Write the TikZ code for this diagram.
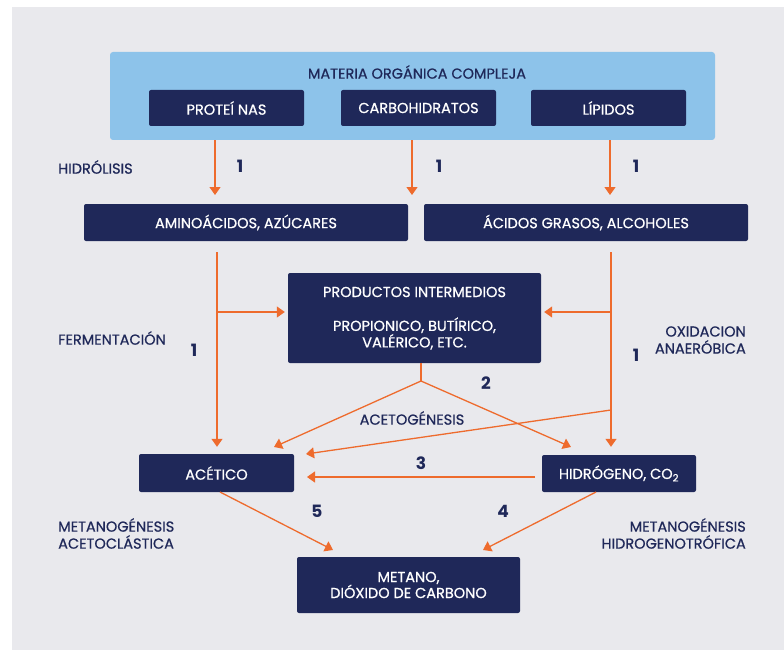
\documentclass[tikz,border=0pt]{standalone}
\usepackage{fontspec}
\setmainfont{Poppins}
\newfontfamily\medfont{Poppins}[FakeBold=0.7]
\usetikzlibrary{arrows.meta}
\definecolor{navy}{HTML}{1F2859}
\definecolor{lblue}{HTML}{8DC3EA}
\definecolor{org}{HTML}{EE6B2D}
\definecolor{bg}{HTML}{E9E9ED}
\begin{document}
\begin{tikzpicture}[x=1pt,y=-1pt,
  darkbox/.style={fill=navy,rounded corners=2pt,text=white,font=\medfont\fontsize{14.5}{16}\selectfont,align=center,inner sep=0pt},
  bluebox/.style={fill=lblue,rounded corners=3pt,inner sep=0pt},
  txt/.style={text=navy,font=\medfont\fontsize{14.5}{17}\selectfont,inner sep=0pt},
  wtxt/.style={text=white,font=\medfont\fontsize{14.5}{15}\selectfont,inner sep=0pt,align=center},
  num/.style={text=navy,font=\bfseries\fontsize{17}{17}\selectfont,inner sep=0pt},
  ln/.style={draw=org,line width=1.3pt},
  arr/.style={draw=org,line width=1.3pt,-{Triangle[width=11pt,length=8pt]}}]
\useasboundingbox (0,0) rectangle (784,650);
\fill[white] (0,0) rectangle (784,650);
\fill[bg] (12,7) rectangle (784,650);

% boxes
\node[bluebox,minimum width=605pt,minimum height=88pt] (mat) at (412.5,96) {};
\node[txt] (mattxt) at (417,72) {MATERIA ORGÁNICA COMPLEJA};
\node[darkbox,minimum width=155pt,minimum height=36pt] (prot) at (226.5,108) {PROTEÍ NAS};
\node[darkbox,minimum width=155pt,minimum height=36pt] (carb) at (418.5,108) {CARBOHIDRATOS};
\node[darkbox,minimum width=155pt,minimum height=36pt] (lip) at (608.5,108) {LÍPIDOS};
\node[darkbox,minimum width=324pt,minimum height=37pt] (amino) at (246,222.5) {AMINOÁCIDOS, AZÚCARES};
\node[darkbox,minimum width=324pt,minimum height=37pt] (acidos) at (586,222.5) {ÁCIDOS GRASOS, ALCOHOLES};
\node[darkbox,minimum width=253pt,minimum height=90pt] (prod) at (414.5,318) {};
\node[wtxt] (prodt1) at (414.5,292) {PRODUCTOS INTERMEDIOS};
\node[wtxt] (prodt2) at (414.5,333.5) {PROPIONICO, BUTÍRICO,\\VALÉRICO, ETC.};
\node[darkbox,minimum width=155pt,minimum height=38pt] (acet) at (216.5,473) {ACÉTICO};
\node[darkbox,minimum width=154pt,minimum height=37pt] (hidro) at (619,473.5) {HIDRÓGENO, CO\textsubscript{2}};
\node[darkbox,minimum width=223pt,minimum height=56pt] (metano) at (408.5,585) {METANO,\\DIÓXIDO DE CARBONO};

% labels
\node[txt,anchor=west] (hidrol) at (58,167) {HIDRÓLISIS};
\node[txt,anchor=west] (ferm) at (58,338) {FERMENTACIÓN};
\node[txt,anchor=east,align=right] (oxid) at (746,340) {OXIDACION\\ANAERÓBICA};
\node[txt] (acetog) at (412,418) {ACETOGÉNESIS};
\node[txt,anchor=west,align=left] (metac) at (58,533.5) {METANOGÉNESIS\\ACETOCLÁSTICA};
\node[txt,anchor=east,align=right] (methid) at (746,533.5) {METANOGÉNESIS\\HIDROGENOTRÓFICA};

\node[num] (n1a) at (240,166) {1};
\node[num] (n1b) at (439,166) {1};
\node[num] (n1c) at (636,166) {1};
\node[num] (n1d) at (194,350) {1};
\node[num] (n1e) at (636,355) {1};
\node[num] (n2) at (486,383) {2};
\node[num] (n3) at (421,463) {3};
\node[num] (n5) at (317,511) {5};
\node[num] (n4) at (503,511) {4};

% coordinates
\coordinate (h1) at (215,195);
\coordinate (h2) at (412,195);
\coordinate (h3) at (610,195);
\coordinate (lx) at (217,312);
\coordinate (rx) at (611,312);
\coordinate (pj) at (421,381);
\coordinate (rj) at (611,410);
\coordinate (tacL) at (274,447);
\coordinate (thiL) at (571,447);
\coordinate (tacR) at (306,454);
\coordinate (t3) at (307,477);
\coordinate (s3) at (535,477);
\coordinate (s5) at (220,492);
\coordinate (t5) at (333,550);
\coordinate (s4) at (596,492);
\coordinate (t4) at (483,550);

% hydrolysis
\draw[arr] (mat.south -| h1) -- (h1);
\draw[arr] (mat.south -| h2) -- (h2);
\draw[arr] (mat.south -| h3) -- (h3);

% fermentation (left)
\draw[arr,shorten <=11pt,shorten >=7pt] (amino.south -| lx) -- (acet.north -| lx);
\draw[arr,shorten >=3pt] (lx) -- (prod.west |- lx);
% anaerobic oxidation (right)
\draw[arr,shorten <=11pt,shorten >=8pt] (acidos.south -| rx) -- (hidro.north -| rx);
\draw[arr,shorten >=3pt] (rx) -- (prod.east |- rx);
\draw[arr] (rj) -- (tacR);

% acetogenesis
\draw[ln] (prod.south -| pj) -- (pj);
\draw[arr] (pj) -- (tacL);
\draw[arr] (pj) -- (thiL);

% 3
\draw[arr] (s3) -- (t3);
% 5 and 4
\draw[arr] (s5) -- (t5);
\draw[arr] (s4) -- (t4);
\end{tikzpicture}
\end{document}
